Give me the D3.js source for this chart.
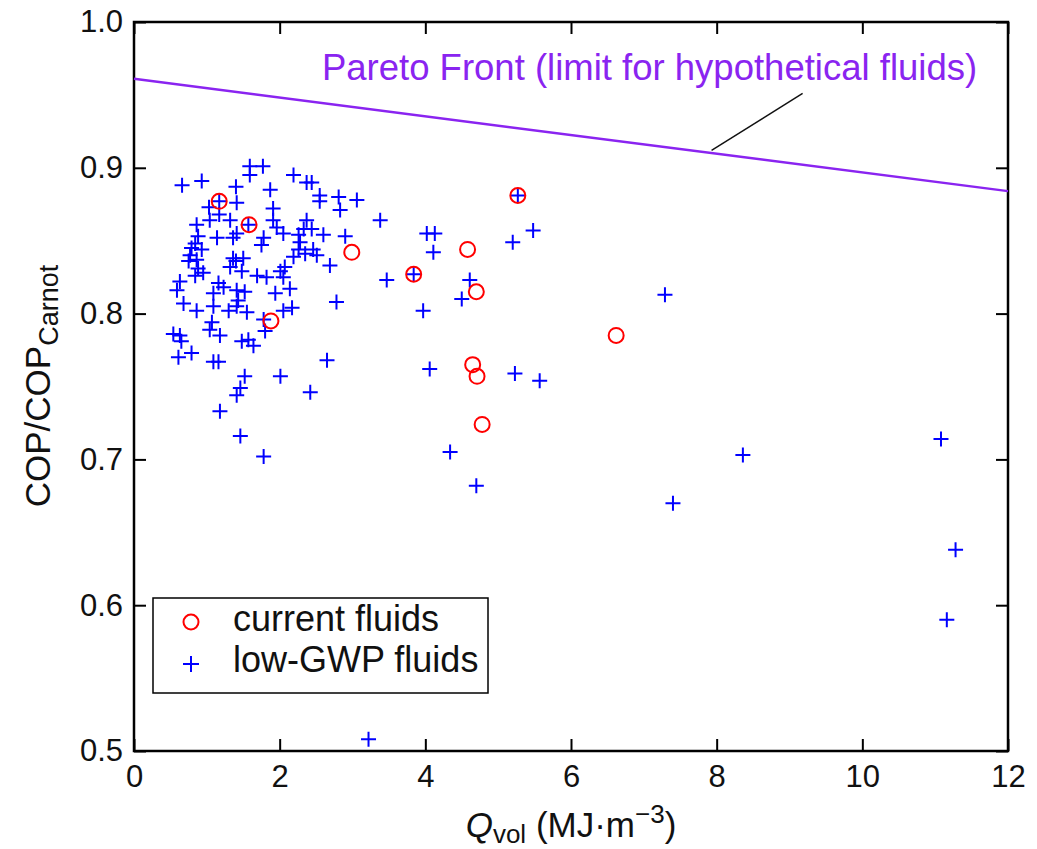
<!DOCTYPE html>
<html>
<head>
<meta charset="utf-8">
<script src="https://cdn.jsdelivr.net/npm/d3@7"></script>
<style>
  body { margin: 0; background: #fff; }
  text { font-family: "Liberation Sans", Arial, Helvetica, sans-serif; }
</style>
</head>
<body>
<div id="my_dataviz"></div>
<script>
// data: [Qvol (MJ/m3), COP/COPcarnot]
var currentFluids = [
  [1.17, 0.877], [1.58, 0.861], [1.88, 0.795], [2.99, 0.842],
  [3.84, 0.827], [4.58, 0.844], [4.70, 0.815], [5.27, 0.881],
  [4.65, 0.765], [4.71, 0.757], [4.78, 0.724], [6.62, 0.785]
];

var lowGwpFluids = [
  [0.66, 0.888], [0.93, 0.891], [1.59, 0.901], [1.77, 0.901], [1.59, 0.895],
  [2.19, 0.895], [2.37, 0.890], [2.44, 0.890], [1.40, 0.887], [1.87, 0.885],
  [2.55, 0.881], [2.81, 0.880], [3.06, 0.878], [2.55, 0.877], [2.83, 0.871],
  [1.17, 0.877], [1.03, 0.873], [1.41, 0.876], [1.91, 0.872], [1.17, 0.868],
  [1.32, 0.864], [1.57, 0.861], [1.04, 0.864], [0.86, 0.861], [1.91, 0.864],
  [1.96, 0.859], [2.37, 0.864], [2.33, 0.858], [2.44, 0.858], [2.26, 0.854],
  [2.05, 0.855], [2.60, 0.854], [2.90, 0.853], [3.38, 0.864], [1.14, 0.852],
  [1.36, 0.852], [1.41, 0.855], [1.78, 0.852], [1.75, 0.847], [0.88, 0.853],
  [0.84, 0.848], [0.79, 0.845], [0.93, 0.844], [0.77, 0.840], [0.75, 0.836],
  [0.86, 0.837], [0.88, 0.831], [0.95, 0.828], [0.84, 0.826], [1.36, 0.838],
  [1.40, 0.836], [1.50, 0.838], [1.32, 0.832], [1.48, 0.829], [1.69, 0.826],
  [1.82, 0.825], [2.07, 0.832], [2.01, 0.829], [2.05, 0.825], [2.19, 0.839],
  [2.26, 0.844], [2.35, 0.841], [2.46, 0.844], [2.51, 0.840], [2.69, 0.833],
  [2.28, 0.849], [0.63, 0.822], [0.59, 0.816], [1.16, 0.821], [1.09, 0.814],
  [1.23, 0.818], [1.41, 0.816], [1.52, 0.815], [1.43, 0.809], [1.41, 0.805],
  [1.94, 0.814], [2.14, 0.817], [0.68, 0.807], [0.86, 0.802], [1.09, 0.805],
  [1.30, 0.802], [1.55, 0.801], [2.05, 0.802], [2.17, 0.804], [2.78, 0.808],
  [3.47, 0.823], [1.07, 0.794], [1.78, 0.796], [1.04, 0.789], [1.18, 0.785],
  [0.54, 0.786], [0.63, 0.785], [0.65, 0.781], [0.79, 0.773], [0.61, 0.770],
  [1.48, 0.781], [1.57, 0.782], [1.64, 0.778], [1.80, 0.788], [1.09, 0.767],
  [1.16, 0.767], [2.65, 0.768], [1.52, 0.757], [2.01, 0.757], [1.46, 0.749],
  [1.41, 0.744], [2.42, 0.746], [1.18, 0.733], [1.46, 0.716], [1.78, 0.702],
  [5.27, 0.881], [4.02, 0.855], [4.13, 0.855], [4.11, 0.842], [5.20, 0.849],
  [5.48, 0.857], [3.84, 0.827], [4.61, 0.823], [4.50, 0.810], [3.97, 0.802],
  [7.29, 0.813], [4.06, 0.762], [5.23, 0.759], [5.57, 0.754], [4.34, 0.705],
  [4.70, 0.682], [7.40, 0.670], [8.36, 0.703], [11.08, 0.714], [11.28, 0.638],
  [11.16, 0.590], [3.22, 0.508]
];

// pareto front end points and the leader line to its label
var paretoFront = [[0, 0.961], [12, 0.884]];
var leaderLine = [[7.93, 0.912], [9.18, 0.951]];
var paretoLabel = "Pareto Front (limit for hypothetical fluids)";

var xTicks = [0, 2, 4, 6, 8, 10, 12];
var yTicks = [0.5, 0.6, 0.7, 0.8, 0.9, 1.0];
var legendItems = ["current fluids", "low-GWP fluids"];

// set the dimensions and margins of the graph
var margin = {top: 22, right: 29, bottom: 98, left: 134},
  width = 1037 - margin.left - margin.right,
  height = 849 - margin.top - margin.bottom;

var svg = d3.select("#my_dataviz")
.append("svg")
  .attr("width", width + margin.left + margin.right)
  .attr("height", height + margin.top + margin.bottom)
.append("g")
  .attr("transform", "translate(" + margin.left + "," + margin.top + ")");

var x = d3.scaleLinear().domain([0, 12]).range([0, width]);
var y = d3.scaleLinear().domain([0.5, 1.0]).range([height, 0]);

var purple = "#8a24f0";

// axes, ticks pointing inward on all four sides
svg.append("g")
  .attr("transform", "translate(0," + height + ")")
  .call(d3.axisBottom(x).tickValues(xTicks).tickSizeInner(-12).tickSizeOuter(0).tickPadding(14)
    .tickFormat(d3.format("d")))
  .call(g => g.select(".domain").remove());

svg.append("g")
  .call(d3.axisTop(x).tickValues(xTicks).tickSizeInner(-12).tickSizeOuter(0).tickFormat(""))
  .call(g => g.select(".domain").remove());

svg.append("g")
  .call(d3.axisLeft(y).tickValues(yTicks).tickSizeInner(-12).tickSizeOuter(0).tickPadding(11)
    .tickFormat(d3.format(".1f")))
  .call(g => g.select(".domain").remove());

svg.append("g")
  .attr("transform", "translate(" + width + ",0)")
  .call(d3.axisRight(y).tickValues(yTicks).tickSizeInner(-12).tickSizeOuter(0).tickFormat(""))
  .call(g => g.select(".domain").remove());

svg.selectAll(".tick line").attr("stroke", "#000").attr("stroke-width", 2);
svg.selectAll(".tick text").attr("font-size", 31).attr("fill", "#111");

// frame
svg.append("rect")
  .attr("width", width)
  .attr("height", height)
  .attr("fill", "none")
  .attr("stroke", "#000")
  .attr("stroke-width", 2.5);

// pareto front line
svg.append("line")
  .attr("x1", x(paretoFront[0][0])).attr("y1", y(paretoFront[0][1]))
  .attr("x2", x(paretoFront[1][0])).attr("y2", y(paretoFront[1][1]))
  .attr("stroke", purple)
  .attr("stroke-width", 2.5);

svg.append("line")
  .attr("x1", x(leaderLine[0][0])).attr("y1", y(leaderLine[0][1]))
  .attr("x2", x(leaderLine[1][0])).attr("y2", y(leaderLine[1][1]))
  .attr("stroke", "#111")
  .attr("stroke-width", 1.5);

svg.append("text")
  .attr("x", x(2.58))
  .attr("y", y(0.960))
  .attr("font-size", 36.5)
  .attr("fill", purple)
  .text(paretoLabel);

// low-GWP fluids as plus markers
var cross = 7.5;
function plusPath(px, py, s) {
  return "M" + (px - s) + "," + py + "H" + (px + s) + "M" + px + "," + (py - s) + "V" + (py + s);
}

svg.append("g")
  .selectAll("path")
  .data(lowGwpFluids)
  .enter().append("path")
    .attr("d", d => plusPath(x(d[0]), y(d[1]), cross))
    .attr("stroke", "#0000ff")
    .attr("stroke-width", 2)
    .attr("fill", "none");

// current fluids as open circles
svg.append("g")
  .selectAll("circle")
  .data(currentFluids)
  .enter().append("circle")
    .attr("cx", d => x(d[0]))
    .attr("cy", d => y(d[1]))
    .attr("r", 7.5)
    .attr("fill", "none")
    .attr("stroke", "#ff0000")
    .attr("stroke-width", 2);

// legend
var legend = svg.append("g")
  .attr("transform", "translate(" + (153 - margin.left) + "," + (598 - margin.top) + ")");

legend.append("rect")
  .attr("width", 335)
  .attr("height", 95)
  .attr("fill", "#fff")
  .attr("stroke", "#000")
  .attr("stroke-width", 1.5);

legend.append("circle")
  .attr("cx", 38).attr("cy", 24).attr("r", 7.5)
  .attr("fill", "none").attr("stroke", "#ff0000").attr("stroke-width", 2);

legend.append("path")
  .attr("d", plusPath(38, 66, 8))
  .attr("stroke", "#0000ff").attr("stroke-width", 2);

legend.selectAll("text")
  .data(legendItems)
  .enter().append("text")
    .attr("x", 80)
    .attr("y", (d, i) => 33 + i * 41)
    .attr("font-size", 36)
    .attr("fill", "#111")
    .text(d => d);

// axis titles
var xTitle = svg.append("text")
  .attr("x", width / 2)
  .attr("y", 837 - margin.top)
  .attr("text-anchor", "middle")
  .attr("font-size", 35)
  .attr("fill", "#111");
xTitle.append("tspan").attr("font-style", "italic").text("Q");
xTitle.append("tspan").attr("font-size", 26).attr("dy", 6).text("vol");
xTitle.append("tspan").attr("dy", -6).text(" (MJ\u00b7m");
xTitle.append("tspan").attr("font-size", 26).attr("dy", -14).text("\u22123");
xTitle.append("tspan").attr("dy", 14).text(")");

var yTitle = svg.append("text")
  .attr("transform", "translate(" + (50 - margin.left) + "," + (386 - margin.top) + ") rotate(-90)")
  .attr("text-anchor", "middle")
  .attr("font-size", 35)
  .attr("fill", "#111");
yTitle.append("tspan").text("COP/COP");
yTitle.append("tspan").attr("font-size", 27).attr("dy", 8).text("Carnot");
</script>
</body>
</html>
